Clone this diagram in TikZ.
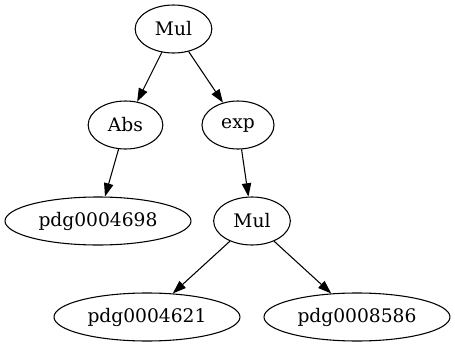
\documentclass[tikz,border=0pt]{standalone}
\usepackage{fontspec}
\setmainfont{DejaVu Serif}
\usetikzlibrary{shapes.geometric,arrows.meta}
\begin{document}
\begin{tikzpicture}[x=0.75pt,y=-0.75pt,
  nd/.style={draw,ellipse,line width=0.8pt,inner sep=0pt,minimum height=36pt,font=\fontsize{14pt}{16pt}\selectfont},
  edge/.style={line width=0.8pt,-{Triangle[length=10pt,width=7pt]}}]
\useasboundingbox (0,0) rectangle (455,347);
\node[nd,minimum width=57.5pt] (m1) at (173.5,29) {Mul};
\node[nd,minimum width=56pt] (abs) at (125.5,125) {Abs};
\node[nd,minimum width=54pt] (exp) at (238,125) {exp};
\node[nd,minimum width=139.5pt] (p1) at (98,221) {pdg0004698};
\node[nd,minimum width=57.5pt] (m2) at (252,221) {Mul};
\node[nd,minimum width=139.5pt] (p2) at (147,317) {pdg0004621};
\node[nd,minimum width=139.5pt] (p3) at (357,317) {pdg0008586};
\draw[edge] (m1) -- (abs);
\draw[edge] (m1) -- (exp);
\draw[edge] (abs) -- (p1);
\draw[edge] (exp) -- (m2);
\draw[edge] (m2) -- (p2);
\draw[edge] (m2) -- (p3);
\end{tikzpicture}
\end{document}
